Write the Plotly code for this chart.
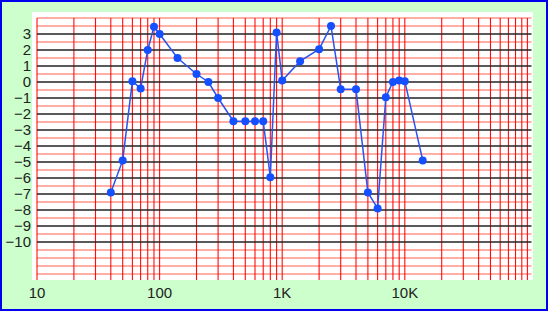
import numpy as np
import plotly.graph_objects as go

# data
freq = [40, 50, 60, 70, 80, 90, 100, 140, 200, 250, 300, 400, 500, 600, 700, 800,
        900, 1000, 1400, 2000, 2500, 3000, 4000, 5000, 6000, 7000, 8000, 9000, 10000, 14000]
level = [-6.9, -4.9, 0.05, -0.4, 2.0, 3.45, 3.0, 1.5, 0.5, 0.0, -1.0, -2.45, -2.45, -2.45, -2.45, -5.95,
         3.1, 0.1, 1.3, 2.05, 3.5, -0.45, -0.45, -6.9, -7.9, -0.95, 0.0, 0.1, 0.05, -4.9]

x_tickvals = [10, 100, 1000, 10000]
x_ticktext = ["10", "100", "1K", "10K"]
y_tickvals = list(range(-10, 4))

# grid definitions
vgrid = [m * 10 ** d for d in range(1, 5) for m in range(1, 10)] + [100000]
hgrid_major = list(range(-10, 4))
hgrid_minor = [v / 2 for v in range(-24, 9) if (v / 2) not in hgrid_major]

X_LO, X_HI = 10, 100000 * 1.08
Y_LO, Y_HI = -12.375, 4.0

fig = go.Figure()

def seg_trace(xs, ys, color, width, dash="solid"):
    fig.add_trace(go.Scatter(x=xs, y=ys, mode="lines", hoverinfo="skip", showlegend=False,
                             line=dict(color=color, width=width, dash=dash)))

# minor horizontal (red)
xs, ys = [], []
for v in hgrid_minor:
    xs += [X_LO, X_HI, None]
    ys += [v, v, None]
seg_trace(xs, ys, "rgba(255,30,0,0.7)", 1.1)

# vertical red
xs, ys = [], []
for v in vgrid:
    xs += [v, v, None]
    ys += [Y_LO - 1, Y_HI, None]
seg_trace(xs, ys, "rgba(255,0,0,0.95)", 1.1)

# major horizontal (black)
xs, ys = [], []
for v in hgrid_major:
    xs += [X_LO, X_HI, None]
    ys += [v, v, None]
seg_trace(xs, ys, "#222222", 1.5)

# data
fig.add_trace(go.Scatter(x=freq, y=level, mode="lines+markers", showlegend=False,
                         line=dict(color="#2a52f0", width=1.5),
                         marker=dict(color="#1450ff", size=8)))

fig.update_layout(
    width=548, height=311,
    margin=dict(l=32, r=15, t=12, b=31, autoexpand=False),
    paper_bgcolor="#ccffcc",
    plot_bgcolor="#ffffff",
    font=dict(family="Liberation Sans, Arial, sans-serif", size=15, color="#222222"),
    shapes=[dict(type="rect", xref="paper", yref="paper",
                 x0=-32 / 501, x1=1 + 15 / 501, y0=-31 / 268, y1=1 + 12 / 268,
                 line=dict(color="#0000ee", width=4), fillcolor="rgba(0,0,0,0)", layer="above")],
)
fig.update_xaxes(type="log", range=[np.log10(10) - 5 / 122.6, 1 + 496 / 122.6],
                 tickvals=x_tickvals, ticktext=x_ticktext, showgrid=False, zeroline=False,
                 showline=False, ticks="", ticklabelstandoff=2, automargin=False)
fig.update_yaxes(range=[-12.375, 4.375], tickvals=y_tickvals, showgrid=False, zeroline=False,
                 showline=False, ticks="", ticklabelstandoff=0, automargin=False)

fig.write_html("out.html")
